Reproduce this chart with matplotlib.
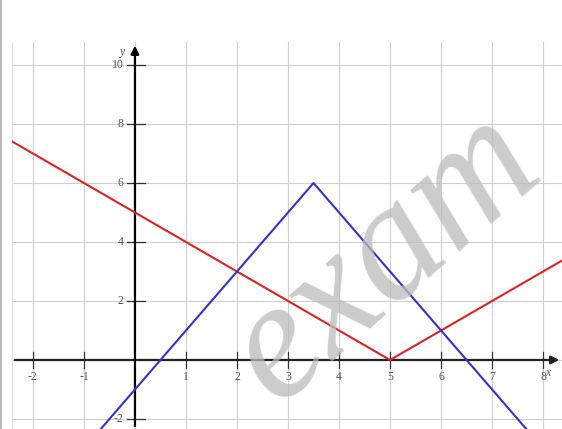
import matplotlib
matplotlib.use('Agg')
from matplotlib import pyplot as plt

# data
red_x = [-2.4, 5, 8.4]
red_y = [7.4, 0, 3.4]
blue_x = [-0.7, 3.5, 7.7]
blue_y = [-2.4, 6, -2.4]
x_ticks = [-2, -1, 1, 2, 3, 4, 5, 6, 7, 8]
y_ticks = [-2, 2, 4, 6, 8, 10]

fig = plt.figure(figsize=(5.62, 4.29), dpi=100)
ax = fig.add_axes([12 / 562, 0, 550 / 562, 387 / 429])
ax.set_xlim(-2.41, 8.37)
ax.set_ylim(-2.34, 10.78)
for s in ax.spines.values():
    s.set_visible(False)
ax.set_xticks([])
ax.set_yticks([])

# grid
for gx in range(-2, 9):
    ax.axvline(gx, color='#d0d0d0', lw=0.8, zorder=0)
for gy in range(-2, 11, 2):
    ax.axhline(gy, color='#d0d0d0', lw=0.8, zorder=0)
ax.axvline(-2.41, color='#e0e0e0', lw=0.8, zorder=0)

# axes with arrows
ax.annotate('', xy=(8.37, 0), xytext=(-2.41, 0),
            arrowprops=dict(arrowstyle='-|>', color='#222222', lw=1.6, mutation_scale=12))
ax.annotate('', xy=(0, 10.75), xytext=(0, -2.34),
            arrowprops=dict(arrowstyle='-|>', color='black', lw=1.6, mutation_scale=12))

# ticks and labels
for t in x_ticks:
    ax.plot([t, t], [-0.27, 0.27], color='#333333', lw=0.9)
    ax.text(t, -0.58, str(t), ha='center', va='center', fontsize=8.5,
            family='Liberation Serif', color='#555555')
for t in y_ticks:
    ax.plot([-0.15, 0.2], [t, t], color='#333333', lw=0.9)
    ax.text(-0.22, t, str(t), ha='right', va='center', fontsize=8.5,
            family='Liberation Serif', color='#555555')
ax.text(-0.2, 10.45, 'y', ha='right', va='center', fontsize=8.5, style='italic',
        family='Liberation Serif', color='#555555')
ax.text(8.1, -0.45, 'x', ha='center', va='center', fontsize=8.5, style='italic',
        family='Liberation Serif', color='#555555')

# graphs
ax.plot(red_x, red_y, color='#dd2222', lw=1.5, zorder=3)
ax.plot(blue_x, blue_y, color='#3333cc', lw=1.5, zorder=3)

# watermark
fig.text(0.685, 0.40, 'exam', fontsize=122, family='Liberation Serif', style='italic',
         color='#bbbbbb', alpha=0.75, rotation=41, ha='center', va='center', zorder=5)

# thin border on the left of the image
fig.add_artist(plt.Line2D([0.002, 0.002], [0, 1], color='#aaaaaa', lw=1.2))

plt.savefig('out.png', dpi=100)
